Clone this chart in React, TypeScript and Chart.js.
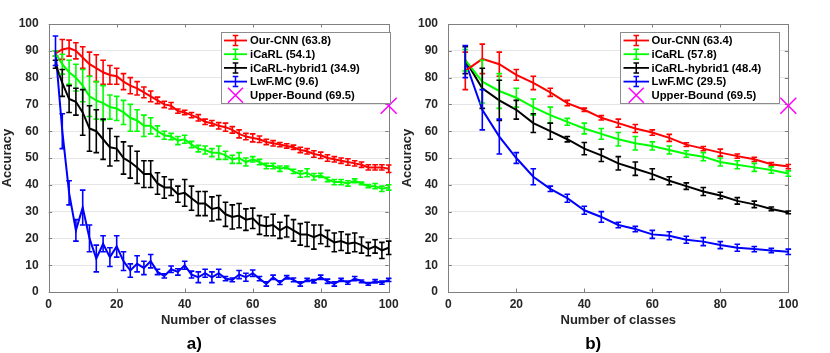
import { useEffect, useRef } from "react";
import { Chart, registerables } from "chart.js";

Chart.register(...registerables);

// ---------------- Panel a) data ----------------
const classesA = [2, 4, 6, 8, 10, 12, 14, 16, 18, 20, 22, 24, 26, 28, 30, 32, 34, 36, 38, 40, 42, 44, 46, 48, 50, 52, 54, 56, 58, 60, 62, 64, 66, 68, 70, 72, 74, 76, 78, 80, 82, 84, 86, 88, 90, 92, 94, 96, 98, 100];
const cnnA = [89, 90.5, 91, 90, 87.5, 85, 83.5, 82, 81, 80.5, 78.5, 77, 76, 74.5, 73, 71.5, 70, 69.5, 67.5, 67, 66, 65, 63.5, 63, 62, 61.5, 60.5, 59, 58, 57.5, 57, 56, 55.5, 55, 54.5, 54, 53, 52.5, 51.5, 51, 50, 49.5, 49, 48.5, 48, 47.5, 46.5, 46.5, 46.5, 46];
const cnnAErr = [1, 3.7, 3, 3, 4, 4.5, 5, 4.5, 3.5, 3, 3, 3, 2.5, 2, 2, 1.2, 1.2, 1.2, 0.8, 0.8, 1, 1.2, 1, 1, 1.2, 1.5, 1.2, 1.5, 1.2, 1.5, 1.2, 1, 1, 0.8, 0.8, 0.8, 1, 1, 1.2, 1.2, 1.2, 1, 1, 1.2, 1, 1, 1, 1, 1, 1.4];
const icarlA = [89, 85, 82, 80, 77, 73, 71.5, 70.5, 69, 68.5, 67, 65, 64, 62, 62, 60, 58.5, 58, 56.5, 57, 55, 53.5, 53, 52, 52, 51, 49.5, 50, 48.5, 49.5, 48.5, 47, 47, 46, 46.5, 45, 44, 44.5, 43, 43.5, 42, 41, 41, 40.5, 41.5, 40.5, 39.5, 39.5, 38.5, 39];
const icarlAErr = [1, 3.7, 4.5, 5, 6, 7.5, 7, 6.5, 4.5, 4.5, 4.5, 5, 4, 4, 3, 2, 1.5, 1.2, 1.5, 1.5, 1.2, 1.2, 1.5, 1.5, 2.5, 1.5, 1.5, 2, 1.5, 1, 1, 1, 1, 1, 0.5, 0.8, 1.2, 1.5, 1.2, 0.8, 0.8, 1, 1, 1, 0.7, 0.5, 0.6, 1, 1, 1];
const hybridA = [85, 78, 72, 71, 67, 61, 60, 57, 54, 53.5, 50, 48.5, 46.5, 44, 44, 40.5, 39, 39, 36.5, 37, 35, 33, 33, 31, 31.5, 29, 28, 28.5, 27, 27.5, 25, 24.5, 25, 23, 24.5, 23, 21.5, 21.5, 20.5, 21.5, 20, 18.5, 19, 18, 18.5, 17.5, 16, 17, 15.5, 16.5];
const hybridAErr = [1.5, 5, 5, 5, 8.5, 8.5, 8, 7.5, 7, 4.5, 6, 6, 6, 5, 5, 4, 4, 3, 3, 5, 4.5, 4.5, 4.5, 4.5, 4.5, 4.5, 4.5, 4.5, 4, 3.8, 3.5, 3.5, 4, 3, 4, 4, 4, 4.5, 4.5, 3.5, 3, 3.5, 3.5, 3.5, 3.5, 3, 2.5, 2.5, 3, 2.5];
const lwfA = [90, 60, 37, 23, 31.5, 20, 12.5, 18, 13, 17, 11.5, 8, 10.5, 9, 11.5, 7.5, 6, 8.5, 7.5, 10, 6.5, 5.5, 7, 5.5, 7, 5, 4.5, 6.5, 5.5, 7, 5, 3, 5.5, 3.5, 5.5, 4.5, 3, 4.5, 4, 5.5, 4, 3, 4.5, 3.5, 5, 4, 3, 4, 3.5, 4.5];
const lwfAErr = [5.5, 6.5, 4.5, 4, 6.5, 5, 5, 3, 3.5, 4, 3.5, 2.5, 3, 2.5, 2.5, 1, 0.8, 1.2, 1.2, 1.5, 1.3, 2, 1.5, 2, 1.5, 0.8, 0.7, 1.5, 1.5, 1.2, 0.8, 0.8, 0.8, 0.7, 0.6, 0.7, 0.8, 0.6, 0.6, 0.8, 0.8, 0.8, 0.6, 0.6, 0.8, 0.5, 0.5, 0.6, 0.6, 0.6];

// ---------------- Panel b) data ----------------
const classesB = [5, 10, 15, 20, 25, 30, 35, 40, 45, 50, 55, 60, 65, 70, 75, 80, 85, 90, 95, 100];
const cnnB = [82.5, 87, 85, 81, 78, 74.5, 70.5, 68, 65, 63, 61, 59.5, 57.5, 55, 53.5, 52, 50.7, 49.5, 47.7, 46.8];
const cnnBErr = [7, 5.5, 4.5, 2, 2.5, 1.5, 1, 0.6, 0.8, 1.5, 1.5, 1, 1.3, 0.7, 0.8, 1.3, 0.8, 0.8, 0.6, 0.8];
const icarlB = [86.5, 78.5, 75, 72.5, 69, 66, 63.5, 61, 59, 57, 55.5, 54.5, 53, 51.5, 50.5, 48.5, 47.5, 46.5, 45.5, 44.2];
const icarlBErr = [4, 8, 6.5, 3.5, 3, 3, 1.3, 2, 2, 2.5, 2.5, 1.5, 1.5, 1.2, 1.5, 1.5, 1.5, 1.5, 1.2, 1];
const hybridB = [86.5, 76, 71.5, 68, 63, 60, 57, 53.5, 51, 48, 46, 44, 41.5, 39.5, 37.5, 36, 34, 32.7, 31, 29.7];
const hybridBErr = [5, 7.5, 7.5, 3.5, 3.5, 3, 1, 2.3, 2.3, 2.5, 2.5, 2, 1.5, 1.2, 1.5, 1.2, 1.2, 1.2, 0.7, 0.5];
const lwfB = [86, 68, 58, 50, 43, 38.5, 35, 30.5, 28, 25, 23.5, 21.5, 21, 19.5, 18.8, 17.5, 16.5, 16, 15.5, 15];
const lwfBErr = [6, 7.5, 6.5, 2, 3, 1, 1.5, 1.5, 2, 1, 1, 1.5, 1.5, 1.3, 1.5, 1.3, 1.3, 1, 0.8, 1];

const labelsA = ["Our-CNN (63.8)", "iCaRL (54.1)", "iCaRL-hybrid1 (34.9)", "LwF.MC (9.6)", "Upper-Bound (69.5)"];
const labelsB = ["Our-CNN (63.4)", "iCaRL (57.8)", "iCaRL-hybrid1 (48.4)", "LwF.MC (29.5)", "Upper-Bound (69.5)"];
const upperBoundX = [100];
const upperBoundY = [69.5];

const seriesColors = ["#ff0000", "#00ff00", "#000000", "#0000ff"];
const upperColor = "#ff00ff";
const FONT = "'Liberation Sans', Arial, Helvetica, sans-serif";
const TEXT = "#262626";
const AXIS = "#7f7f7f";

const errorBarPlugin = {
  id: "errorBars",
  afterDatasetsDraw(chart: any) {
    const ctx = chart.ctx;
    const yScale = chart.scales.y;
    chart.data.datasets.forEach((ds: any, di: number) => {
      const errs = ds.errors;
      if (!errs) return;
      const meta = chart.getDatasetMeta(di);
      ctx.save();
      ctx.strokeStyle = ds.borderColor;
      ctx.lineWidth = 1.6;
      const cap = 2.8;
      meta.data.forEach((pt: any, i: number) => {
        const v = ds.data[i].y;
        const e = errs[i];
        const x = pt.x;
        const y1 = yScale.getPixelForValue(v - e);
        const y2 = yScale.getPixelForValue(v + e);
        ctx.beginPath();
        ctx.moveTo(x, y1);
        ctx.lineTo(x, y2);
        ctx.moveTo(x - cap, y1);
        ctx.lineTo(x + cap, y1);
        ctx.moveTo(x - cap, y2);
        ctx.lineTo(x + cap, y2);
        ctx.stroke();
      });
      ctx.restore();
    });
  },
};

const boxPlugin = {
  id: "axisBox",
  beforeDatasetsDraw(chart: any) {
    const { ctx, chartArea } = chart;
    const { left, right, top, bottom } = chartArea;
    ctx.save();
    ctx.strokeStyle = AXIS;
    ctx.lineWidth = 1;
    ctx.strokeRect(Math.round(left) + 0.5, Math.round(top) + 0.5, Math.round(right - left), Math.round(bottom - top));
    const tl = 3.5;
    ctx.beginPath();
    chart.scales.x.ticks.forEach((t: any) => {
      const x = Math.round(chart.scales.x.getPixelForValue(t.value)) + 0.5;
      ctx.moveTo(x, bottom);
      ctx.lineTo(x, bottom - tl);
      ctx.moveTo(x, top);
      ctx.lineTo(x, top + tl);
    });
    chart.scales.y.ticks.forEach((t: any) => {
      const y = Math.round(chart.scales.y.getPixelForValue(t.value)) + 0.5;
      ctx.moveTo(left, y);
      ctx.lineTo(left + tl, y);
      ctx.moveTo(right, y);
      ctx.lineTo(right - tl, y);
    });
    ctx.stroke();
    ctx.restore();
  },
};

const legendPlugin = {
  id: "boxLegend",
  afterDraw(chart: any) {
    const opts = chart.options.plugins.boxLegend;
    if (!opts) return;
    const { ctx } = chart;
    const { left, top, width, height, symLeft, symRight, textLeft } = opts;
    ctx.save();
    ctx.fillStyle = "#ffffff";
    ctx.fillRect(left, top, width, height);
    ctx.strokeStyle = "#8c8c8c";
    ctx.lineWidth = 1;
    ctx.strokeRect(left + 0.5, top + 0.5, width, height);
    ctx.font = `bold 11.3px ${FONT}`;
    ctx.textBaseline = "middle";
    chart.data.datasets.forEach((ds: any, i: number) => {
      const cy = top + 8.5 + i * 13.7;
      const x0 = left + symLeft;
      const x1 = left + symRight;
      const cx = (x0 + x1) / 2;
      ctx.strokeStyle = ds.borderColor;
      if (ds.errors) {
        ctx.lineWidth = 1.8;
        ctx.beginPath();
        ctx.moveTo(x0, cy);
        ctx.lineTo(x1, cy);
        ctx.stroke();
        ctx.lineWidth = 1.5;
        ctx.beginPath();
        ctx.moveTo(cx, cy - 5);
        ctx.lineTo(cx, cy + 5);
        ctx.moveTo(cx - 2.8, cy - 5);
        ctx.lineTo(cx + 2.8, cy - 5);
        ctx.moveTo(cx - 2.8, cy + 5);
        ctx.lineTo(cx + 2.8, cy + 5);
        ctx.stroke();
      } else {
        ctx.lineWidth = 1.5;
        const r = 7.5;
        ctx.beginPath();
        ctx.moveTo(cx - r, cy - r);
        ctx.lineTo(cx + r, cy + r);
        ctx.moveTo(cx - r, cy + r);
        ctx.lineTo(cx + r, cy - r);
        ctx.stroke();
      }
      ctx.fillStyle = "#000000";
      ctx.fillText(ds.label, left + textLeft, cy + 0.5);
    });
    ctx.restore();
  },
};

function toPoints(xs: number[], ys: number[]) {
  return xs.map((x, i) => ({ x, y: ys[i] }));
}

function makeConfig(p: any): any {
  const series = [p.cnn, p.icarl, p.hybrid, p.lwf];
  const errs = [p.cnnErr, p.icarlErr, p.hybridErr, p.lwfErr];
  const datasets: any[] = series.map((ys: number[], i: number) => ({
    label: p.labels[i],
    data: toPoints(p.xs, ys),
    errors: errs[i],
    borderColor: seriesColors[i],
    backgroundColor: seriesColors[i],
    borderWidth: 2,
    pointRadius: 0,
    pointHoverRadius: 0,
    tension: 0,
    showLine: true,
  }));
  datasets.push({
    label: p.labels[4],
    data: toPoints(upperBoundX, upperBoundY),
    borderColor: upperColor,
    backgroundColor: upperColor,
    pointStyle: "crossRot",
    pointRadius: 11.3,
    pointBorderWidth: 1.5,
    showLine: false,
    clip: false,
  });
  return {
    type: "scatter",
    data: { datasets },
    plugins: [boxPlugin, errorBarPlugin, legendPlugin],
    options: {
      responsive: false,
      animation: false,
      devicePixelRatio: 1,
      layout: { padding: { left: 0, right: p.padRight, top: 24, bottom: 0 } },
      scales: {
        x: {
          type: "linear",
          min: 0,
          max: 100,
          ticks: { stepSize: 20, padding: 5, color: TEXT, font: { family: FONT, size: 12, weight: "bold" }, maxRotation: 0 },
          grid: { display: false, drawTicks: false },
          border: { display: false },
          title: { display: true, text: "Number of classes", color: TEXT, font: { family: FONT, size: 13, weight: "bold" }, padding: { top: 0, bottom: -2 } },
          afterFit(scale: any) {
            scale.height = 34;
            scale.paddingLeft = 0;
            scale.paddingRight = 0;
          },
        },
        y: {
          type: "linear",
          min: 0,
          max: 100,
          ticks: { stepSize: 10, padding: p.yTickPad, color: TEXT, font: { family: FONT, size: 12, weight: "bold" } },
          grid: { color: "#e6e6e6", lineWidth: 1, drawTicks: false },
          border: { display: false },
          title: { display: true, text: "Accuracy", color: TEXT, font: { family: FONT, size: 13, weight: "bold" }, padding: { top: p.yTitlePad, bottom: 0 } },
          afterFit(scale: any) {
            scale.width = p.yWidth;
            scale.paddingTop = 0;
            scale.paddingBottom = 0;
          },
        },
      },
      plugins: {
        legend: { display: false },
        tooltip: { enabled: false },
        title: {
          display: true,
          position: "bottom",
          text: p.caption,
          color: "#000000",
          font: { family: FONT, size: 17, weight: "bold", lineHeight: 1 },
          padding: { top: 10, bottom: 0 },
        },
        boxLegend: p.legend,
      },
    },
  };
}

const panelA = {
  xs: classesA, cnn: cnnA, cnnErr: cnnAErr, icarl: icarlA, icarlErr: icarlAErr,
  hybrid: hybridA, hybridErr: hybridAErr, lwf: lwfA, lwfErr: lwfAErr,
  labels: labelsA, caption: "a)", padRight: 21.3, yWidth: 48.7, yTickPad: 10, yTitlePad: 0,
  legend: { left: 221, top: 32, width: 169, height: 71, symLeft: 3, symRight: 26, textLeft: 29 },
};
const panelB = {
  xs: classesB, cnn: cnnB, cnnErr: cnnBErr, icarl: icarlB, icarlErr: icarlBErr,
  hybrid: hybridB, hybridErr: hybridBErr, lwf: lwfB, lwfErr: lwfBErr,
  labels: labelsB, caption: "b)", padRight: 41.7, yWidth: 50.3, yTickPad: 10.3, yTitlePad: 1.2,
  legend: { left: 222, top: 32, width: 159, height: 71, symLeft: 3.5, symRight: 29, textLeft: 31.5 },
};

function Panel({ cfg, left, width }: { cfg: any; left: number; width: number }) {
  const ref = useRef<HTMLCanvasElement | null>(null);
  useEffect(() => {
    if (!ref.current) return;
    const chart = new Chart(ref.current, makeConfig(cfg));
    return () => chart.destroy();
  }, [cfg]);
  return (
    <canvas
      ref={ref}
      width={width}
      height={353}
      style={{ position: "absolute", left, top: 0, width, height: 353 }}
    />
  );
}

export default function App() {
  return (
    <div style={{ position: "fixed", left: 0, top: 0, width: 830, height: 353, background: "#ffffff", overflow: "hidden" }}>
      <Panel cfg={panelA} left={0} width={410} />
      <Panel cfg={panelB} left={398} width={432} />
    </div>
  );
}
